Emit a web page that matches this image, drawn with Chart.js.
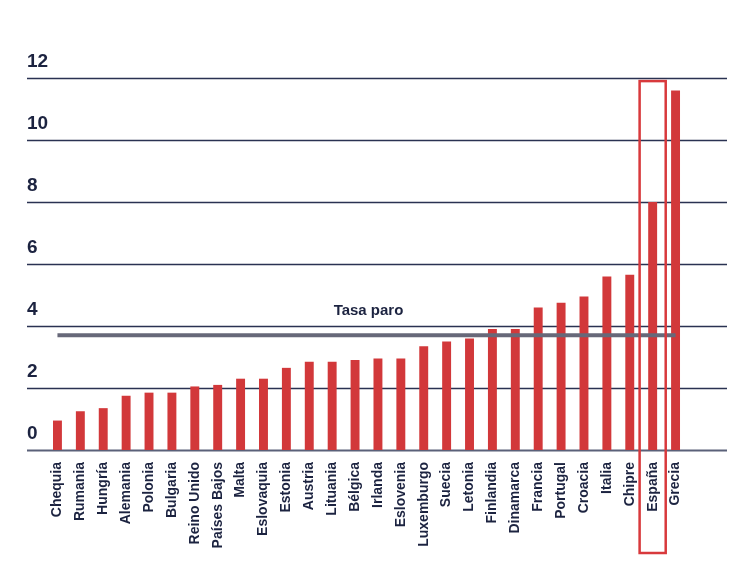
<!DOCTYPE html>
<html>
<head>
<meta charset="utf-8">
<script src="https://cdn.jsdelivr.net/npm/chart.js@4.4.1/dist/chart.umd.min.js"></script>
<style>
  html, body { margin: 0; padding: 0; background: #fff; }
  #wrap { width: 733px; height: 565px; }
</style>
</head>
<body>
<div id="wrap"><canvas id="paroChart" width="733" height="565"></canvas></div>
<script>
// Countries, sorted by value
const countries = ['Chequia', 'Rumania', 'Hungría', 'Alemania', 'Polonia', 'Bulgaria', 'Reino Unido',
  'Países Bajos', 'Malta', 'Eslovaquia', 'Estonia', 'Austria', 'Lituania', 'Bélgica', 'Irlanda',
  'Eslovenia', 'Luxemburgo', 'Suecia', 'Letonia', 'Finlandia', 'Dinamarca', 'Francia', 'Portugal',
  'Croacia', 'Italia', 'Chipre', 'España', 'Grecia'];

// Unemployment rate per country (%)
const rates = [0.95, 1.25, 1.35, 1.75, 1.85, 1.85, 2.05, 2.1, 2.3, 2.3, 2.65, 2.85, 2.85, 2.9, 2.95,
  2.95, 3.35, 3.5, 3.6, 3.9, 3.9, 4.6, 4.75, 4.95, 5.6, 5.65, 8.0, 11.6];

// Average rate line
const tasaParo = 3.7;
const tasaParoLabel = 'Tasa paro';
const highlighted = 'España';

const yTicks = [0, 2, 4, 6, 8, 10, 12];

const FONT = '"Liberation Sans", Arial, sans-serif';
const TEXT = '#1c2340';
const RED = '#d2383a';

// Horizontal rules, label of the average line and the box round España
const decorations = {
    id: 'decorations',
    beforeDatasetsDraw(chart) {
        const ctx = chart.ctx;
        const y = chart.scales.y;
        const left = y.left;
        const right = chart.width - 6;
        ctx.save();
        yTicks.forEach(t => {
            const py = Math.round(y.getPixelForValue(t)) + 0.5;
            ctx.beginPath();
            ctx.strokeStyle = t === 0 ? '#5a6179' : '#2a3252';
            ctx.lineWidth = t === 0 ? 2 : 1.5;
            ctx.moveTo(left, py);
            ctx.lineTo(right, py);
            ctx.stroke();
        });
        ctx.restore();
    },
    afterDraw(chart) {
        const ctx = chart.ctx;
        const x = chart.scales.x;
        const y = chart.scales.y;
        const area = chart.chartArea;
        ctx.save();
        // label above the average line
        ctx.fillStyle = TEXT;
        ctx.font = 'bold 15px ' + FONT;
        ctx.textAlign = 'center';
        ctx.textBaseline = 'middle';
        ctx.fillText(tasaParoLabel, (area.left + area.right) / 2 + 2, y.getPixelForValue(tasaParo) - 24);

        // highlight box
        const idx = countries.indexOf(highlighted);
        const cw = (area.right - area.left) / countries.length;
        const cx = x.getPixelForValue(idx);
        const top = y.getPixelForValue(11.9);
        const bottom = chart.height - 12;
        ctx.strokeStyle = '#d8393c';
        ctx.lineWidth = 2.5;
        ctx.strokeRect(cx - cw * 0.57, top, cw * 1.14, bottom - top);
        ctx.restore();
    }
};

const ctx = document.getElementById('paroChart').getContext('2d');
new Chart(ctx, {
    type: 'bar',
    data: {
        labels: countries,
        datasets: [{
            type: 'line',
            label: tasaParoLabel,
            data: countries.map(() => tasaParo),
            borderColor: '#676879',
            borderWidth: 4,
            pointRadius: 0,
            fill: false,
            order: 0
        }, {
            label: 'Tasa',
            data: rates,
            backgroundColor: RED,
            barPercentage: 0.39,
            categoryPercentage: 1,
            order: 1
        }]
    },
    options: {
        responsive: false,
        animation: false,
        layout: { padding: { left: 27, right: 46, top: 78, bottom: 0 } },
        plugins: {
            legend: { display: false },
            tooltip: { enabled: false }
        },
        scales: {
            x: {
                grid: { display: false },
                border: { display: false },
                ticks: {
                    autoSkip: false,
                    minRotation: 90,
                    maxRotation: 90,
                    padding: 4,
                    color: TEXT,
                    font: { family: FONT, size: 14, weight: 'bold' }
                },
                afterFit: s => { s.height = 115; }
            },
            y: {
                min: 0,
                max: 12,
                grid: { display: false },
                border: { display: false },
                ticks: {
                    stepSize: 2,
                    mirror: true,
                    labelOffset: -16,
                    padding: -19,
                    color: TEXT,
                    font: { family: FONT, size: 19, weight: 'bold' }
                },
                afterFit: s => { s.width = 19; }
            }
        }
    },
    plugins: [decorations]
});
</script>
</body>
</html>
